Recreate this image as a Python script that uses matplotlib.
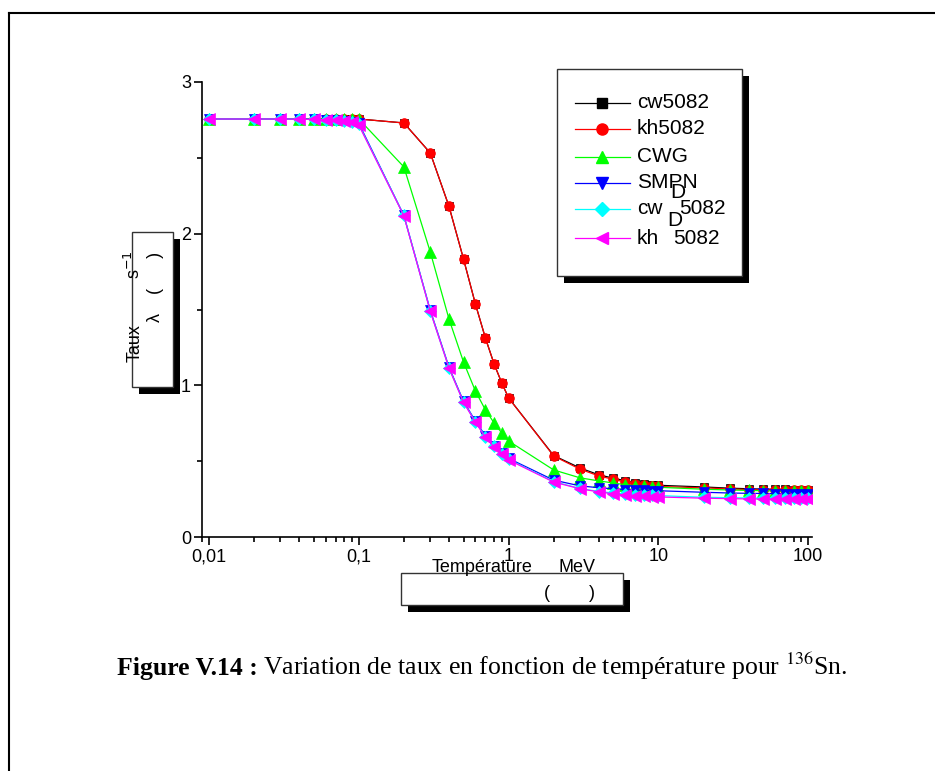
import matplotlib
matplotlib.use("Agg")
import matplotlib.pyplot as plt
from matplotlib.patches import Rectangle
from matplotlib.lines import Line2D

# === DATA ===
temperature = [0.01, 0.02, 0.03, 0.04, 0.05, 0.06, 0.07, 0.08, 0.09, 0.1,
               0.2, 0.3, 0.4, 0.5, 0.6, 0.7, 0.8, 0.9, 1,
               2, 3, 4, 5, 6, 7, 8, 9, 10,
               20, 30, 40, 50, 60, 70, 80, 90, 100]

cw5082 = [2.756] * 10 + [2.73, 2.532, 2.18, 1.833, 1.537, 1.312, 1.141, 1.016, 0.917,
                         0.537, 0.455, 0.41, 0.388, 0.371, 0.358, 0.351, 0.345, 0.341,
                         0.33, 0.322, 0.318, 0.316, 0.315, 0.314, 0.313, 0.313, 0.312]
kh5082 = [2.756] * 10 + [2.73, 2.532, 2.18, 1.833, 1.537, 1.312, 1.141, 1.016, 0.917,
                         0.534, 0.447, 0.403, 0.380, 0.363, 0.350, 0.343, 0.337, 0.333,
                         0.324, 0.317, 0.313, 0.311, 0.310, 0.309, 0.308, 0.308, 0.307]
cwg = [2.756] * 10 + [2.44, 1.879, 1.437, 1.154, 0.963, 0.838, 0.752, 0.686, 0.633,
                      0.442, 0.39, 0.37, 0.356, 0.345, 0.338, 0.333, 0.33, 0.328,
                      0.315, 0.31, 0.307, 0.305, 0.304, 0.303, 0.302, 0.302, 0.301]
smpn = [2.756, 2.756, 2.756, 2.755, 2.754, 2.752, 2.75, 2.745, 2.738, 2.728,
        2.12, 1.495, 1.12, 0.895, 0.765, 0.668, 0.602, 0.556, 0.518,
        0.375, 0.337, 0.325, 0.318, 0.313, 0.31, 0.308, 0.306, 0.305,
        0.295, 0.29, 0.288, 0.287, 0.286, 0.285, 0.285, 0.284, 0.284]
cw_d5082 = [2.756, 2.756, 2.756, 2.755, 2.753, 2.75, 2.747, 2.742, 2.735, 2.72,
            2.12, 1.49, 1.115, 0.89, 0.76, 0.662, 0.597, 0.55, 0.512,
            0.365, 0.32, 0.3, 0.29, 0.283, 0.279, 0.276, 0.274, 0.273,
            0.262, 0.259, 0.257, 0.256, 0.255, 0.255, 0.254, 0.254, 0.254]
kh_d5082 = [2.756, 2.756, 2.756, 2.755, 2.753, 2.75, 2.747, 2.74, 2.735, 2.716,
            2.117, 1.488, 1.113, 0.888, 0.757, 0.658, 0.593, 0.546, 0.508,
            0.362, 0.318, 0.297, 0.285, 0.277, 0.272, 0.268, 0.266, 0.264,
            0.256, 0.253, 0.251, 0.25, 0.249, 0.249, 0.248, 0.248, 0.248]

# name, values, colour, marker, marker size
series = [
    ("cw5082", cw5082, "#000000", "s", 5.5),
    ("kh5082", kh5082, "#ff0000", "o", 7),
    ("CWG", cwg, "#00ff00", "^", 8),
    ("SMPN", smpn, "#0000ff", "v", 7.5),
    ("cw  5082", cw_d5082, "#00ffff", "D", 6),
    ("kh   5082", kh_d5082, "#ff00ff", "<", 8),
]

xtick_vals = [0.01, 0.1, 1, 10, 100]
xtick_labels = ["0,01", "0,1", "1", "10", "100"]
ytick_vals = [0, 1, 2, 3]

W, H = 935, 771
SANS = "Liberation Sans"
SERIF = "Liberation Serif"


def fx(x):
    return x / W


def fy(y):
    return 1 - y / H


fig = plt.figure(figsize=(W / 100, H / 100), dpi=100)

# page frame (cut off at right and bottom)
fig.add_artist(Line2D([fx(9), fx(9)], [fy(13), 0], color="black", lw=1.5))
fig.add_artist(Line2D([fx(9), 1], [fy(13), fy(13)], color="black", lw=1.5))

# === AXES ===
ax = fig.add_axes([fx(202), fy(537), fx(812) - fx(202), fy(82) - fy(537)])
for name, vals, col, mk, ms in series:
    ax.plot(temperature, vals, color=col, lw=0.9, marker=mk, ms=ms,
            mfc=col, mec=col, mew=0.5)

ax.set_xscale("log")
ax.set_xlim(0.00898, 106)
ax.set_ylim(0, 3)
ax.set_xticks(xtick_vals)
ax.set_xticklabels(xtick_labels)
ax.set_yticks(ytick_vals)
ax.set_yticks([0.5, 1.5, 2.5], minor=True)
ax.spines["top"].set_visible(False)
ax.spines["right"].set_visible(False)
ax.spines["left"].set_linewidth(1.2)
ax.spines["bottom"].set_linewidth(1.2)
ax.tick_params(which="major", direction="out", length=6, width=1.2,
               labelsize=13, pad=2)
ax.tick_params(which="minor", direction="out", length=3.5, width=1.2)
for lab in ax.get_xticklabels() + ax.get_yticklabels():
    lab.set_fontfamily(SANS)


def box(x0, y0, x1, y1, shadow=7):
    # black drop shadow then white box
    fig.add_artist(Rectangle((fx(x0 + shadow), fy(y1 + shadow)),
                             fx(x1 - x0), fy(y0) - fy(y1),
                             facecolor="black", edgecolor="black", lw=0))
    fig.add_artist(Rectangle((fx(x0), fy(y1)), fx(x1 - x0), fy(y0) - fy(y1),
                             facecolor="white", edgecolor="#333333", lw=1))


def txt(x, y, s, **kw):
    kw.setdefault("fontfamily", SANS)
    kw.setdefault("fontsize", 13)
    return fig.text(fx(x), fy(y), s, **kw)


# === Y LABEL BOX ===
box(132, 232, 173, 387, shadow=7)
txt(135, 343, "Taux", rotation=90, ha="center", va="center")
txt(134, 265, "s$^{-1}$", rotation=90, ha="center", va="center")
txt(155, 317, "λ", rotation=90, ha="center", va="center")
txt(155, 273, "(      )", rotation=90, ha="center", va="center")

# === X LABEL BOX ===
box(401, 573, 623, 605, shadow=7)
txt(482, 567, "Température", ha="center", va="center")
txt(577, 567, "MeV", ha="center", va="center")
txt(547, 594, "(", ha="center", va="center")
txt(592, 594, ")", ha="center", va="center")

# === LEGEND ===
box(557, 69, 742, 276, shadow=7)
rows = [103, 129, 157, 183, 209, 238]
for (name, vals, col, mk, ms), ry in zip(series, rows):
    fig.add_artist(Line2D([fx(575), fx(630)], [fy(ry), fy(ry)], color=col, lw=0.9))
    fig.add_artist(Line2D([fx(602)], [fy(ry)], color=col, marker=mk, ms=ms + 1,
                          mfc=col, mec=col, lw=0))
    if name.startswith("cw "):
        txt(637, ry, "cw", va="center", fontsize=15)
        txt(679, ry, "5082", va="center", fontsize=15)
    elif name.startswith("kh "):
        txt(637, ry, "kh", va="center", fontsize=15)
        txt(673, ry, "5082", va="center", fontsize=15)
    else:
        txt(637, ry, name, va="center", fontsize=15)
txt(678, 193, "D", ha="center", va="center", fontsize=15)
txt(675, 221, "D", ha="center", va="center", fontsize=15)

# === CAPTION ===
cap1 = fig.text(fx(117), fy(675), "Figure V.14 :", fontfamily=SERIF,
                fontweight="bold", fontsize=18.5)
fig.canvas.draw()
bb = cap1.get_window_extent()
fig.text((bb.x1 + 5) / W, fy(675),
         "Variation de taux en fonction de température pour $^{136}$Sn.",
         fontfamily=SERIF, fontsize=18.5, math_fontfamily="stix")

fig.savefig("out.png", dpi=100)
